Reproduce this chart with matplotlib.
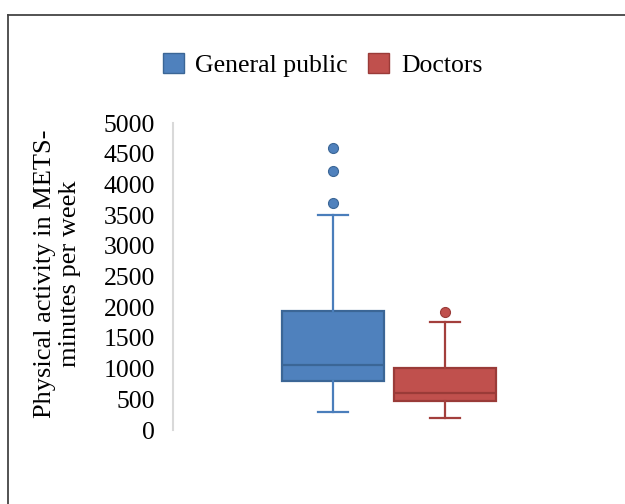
import matplotlib.pyplot as plt
from matplotlib.patches import Patch
from matplotlib.lines import Line2D

# box plot summary values (METS-minutes per week)
groups = ['General public', 'Doctors']
lower_whisker = [290, 195]
q1 = [800, 472]
median = [1060, 603]
q3 = [1940, 1010]
upper_whisker = [3500, 1760]
outliers = [[3700, 4220, 4600], [1925]]
y_ticks = [0, 500, 1000, 1500, 2000, 2500, 3000, 3500, 4000, 4500, 5000]

fills = ['#4F81BD', '#C0504D']
edges = ['#3B6696', '#9A3B38']
whisk = ['#4A7EBB', '#A33F3C']

plt.rcParams['font.family'] = ['Liberation Serif', 'DejaVu Serif']

fig = plt.figure(figsize=(6.25, 5.04), dpi=100)
ax = fig.add_axes([0.2768, 0.1468, 0.691, 0.609])

positions = [0.37, 0.63]
for i in range(len(groups)):
    stats = [{'whislo': lower_whisker[i], 'q1': q1[i], 'med': median[i],
              'q3': q3[i], 'whishi': upper_whisker[i], 'fliers': outliers[i]}]
    ax.bxp(stats, positions=[positions[i]], widths=0.236, capwidths=0.069,
           patch_artist=True, showfliers=True,
           boxprops=dict(facecolor=fills[i], edgecolor=edges[i], linewidth=1.6),
           medianprops=dict(color=edges[i], linewidth=1.6),
           whiskerprops=dict(color=whisk[i], linewidth=1.6),
           capprops=dict(color=whisk[i], linewidth=1.6),
           flierprops=dict(marker='o', markersize=7.2, markerfacecolor=fills[i],
                           markeredgecolor=edges[i], markeredgewidth=0.8))

ax.set_xlim(0, 1)
ax.set_ylim(0, 5000)
ax.set_yticks(y_ticks)
ax.set_xticks([])
ax.tick_params(axis='y', length=0, pad=13, labelsize=18.5)
for s in ['top', 'right', 'bottom']:
    ax.spines[s].set_visible(False)
ax.spines['left'].set_color('#D9D9D9')
ax.spines['left'].set_linewidth(1.5)

ax.set_ylabel('Physical activity in METS-\nminutes per week', fontsize=19,
              linespacing=1.15)
ax.yaxis.set_label_coords(-0.214, 0.51)

handles = [Patch(facecolor=fills[i], edgecolor=edges[i], linewidth=1.0, label=groups[i])
           for i in range(len(groups))]
fig.legend(handles=handles, loc='center', bbox_to_anchor=(0.516, 0.871), ncol=2,
           frameon=False, fontsize=18.5, handlelength=0.82, handleheight=0.82,
           handletextpad=0.45, columnspacing=0.8)

# chart frame (only top and left edges visible in the crop)
fig.add_artist(Line2D([0.0128, 1.0], [0.970, 0.970], color='#444444', linewidth=1.3))
fig.add_artist(Line2D([0.0128, 0.0128], [0.0, 0.970], color='#444444', linewidth=1.3))

fig.savefig('out.png', dpi=100)
